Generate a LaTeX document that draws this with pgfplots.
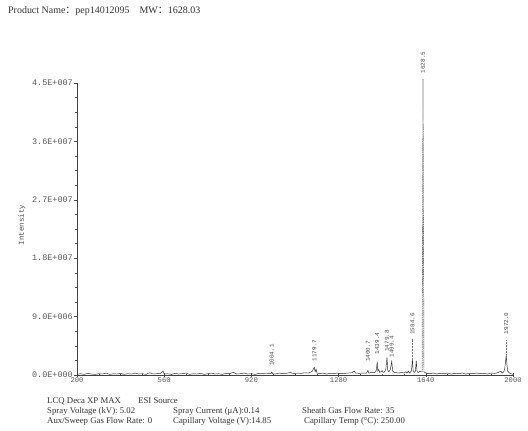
\documentclass[border=0pt]{standalone}
\usepackage{fontspec}
\setmainfont{Liberation Serif}
\newfontfamily\monofont{Liberation Mono}
\newfontfamily\cjk{Noto Sans CJK SC}
\usepackage{pgfplots}
\pgfplotsset{compat=1.18}
\begin{document}
\begin{tikzpicture}
\useasboundingbox (0,0) rectangle (528bp,431bp);
\begin{axis}[
  at={(77bp,56bp)}, anchor=south west,
  scale only axis, width=436bp, height=292bp,
  xmin=200, xmax=2000, ymin=0, ymax=45,
  axis x line=bottom, axis y line=left,
  axis line style={-, black!75, line width=0.6pt},
  clip=false,
  xtick={200,560,920,1280,1640,2000},
  xticklabels={200,560,920,1280,1640,2000},
  ytick={0,9,18,27,36,45},
  yticklabels={0.0E+000,9.0E+006,1.8E+007,2.7E+007,3.6E+007,4.5E+007},
  minor x tick num=3, minor y tick num=3,
  xtick align=center, ytick align=outside,
  major tick length=3bp, minor tick length=2bp,
  tick style={black!70, line width=0.5pt},
  xticklabel style={font=\monofont\fontsize{7.2}{7.2}\selectfont, text=black!65, inner sep=1pt},
  yticklabel style={font=\monofont\fontsize{8.5}{8.5}\selectfont, text=black!65, inner sep=1pt},
]
% spectrum (intensity in units of 1E+006)
\addplot[black!85, line width=0.45pt] coordinates {
(200,0.1) (215,0.2) (230,0.1) (245,0.25) (260,0.15) (275,0.1) (290,0.2) (305,0.15) (320,0.3) (335,0.1)
(350,0.2) (365,0.15) (380,0.25) (395,0.1) (410,0.2) (425,0.15) (440,0.3) (455,0.15) (470,0.2) (485,0.1)
(500,0.35) (515,0.15) (530,0.2) (545,0.25) (555,0.6) (560,0.15) (575,0.2) (590,0.1) (605,0.25) (620,0.15)
(635,0.2) (650,0.3) (665,0.1) (680,0.2) (695,0.15) (710,0.25) (725,0.1) (740,0.2) (755,0.3) (770,0.15)
(785,0.2) (800,0.1) (815,0.25) (830,0.2) (845,0.4) (860,0.15) (875,0.2) (890,0.3) (905,0.15) (920,0.2)
(935,0.1) (950,0.25) (965,0.2) (980,0.3) (995,0.2) (1001,0.2) (1004.1,0.45) (1008,0.2) (1020,0.15) (1035,0.3)
(1050,0.2) (1065,0.25) (1080,0.4) (1095,0.2) (1110,0.3) (1125,0.25) (1140,0.35) (1155,0.3) (1165,0.45) (1172,0.6)
(1176,0.9) (1179.7,1.2) (1183,0.5) (1187,0.9) (1191,0.3) (1200,0.2) (1215,0.3) (1230,0.15) (1245,0.25) (1260,0.2)
(1275,0.3) (1290,0.2) (1305,0.25) (1320,0.3) (1335,0.35) (1340,0.5) (1345,0.6) (1350,0.3) (1365,0.25) (1380,0.3)
(1395,0.3) (1400.7,0.7) (1405,0.3) (1415,0.4) (1425,0.35) (1433,0.5) (1436,0.8) (1439.4,2.05) (1442,0.6) (1446,0.9)
(1449,0.4) (1455,0.5) (1460,0.7) (1464,0.4) (1470,0.5) (1475,0.9) (1479.8,2.7) (1483,0.7) (1488,0.5) (1494,0.9)
(1499.4,2.1) (1503,0.6) (1510,0.4) (1520,0.35) (1530,0.3) (1540,0.4) (1550,0.3) (1558,0.5) (1562,0.3) (1568,0.6)
(1572,0.3) (1578,0.5) (1581,0.6) (1584.6,2.5) (1588,0.5) (1594,0.4) (1597,0.6) (1600.5,2.2) (1604,0.5) (1610,0.4)
(1616,0.6) (1620,0.5) (1625,0.5)
};
\addplot[black!85, line width=0.45pt] coordinates {
(1632,0.5) (1640,0.3) (1655,0.2) (1670,0.3) (1685,0.15) (1700,0.25) (1715,0.2) (1730,0.3) (1745,0.15) (1760,0.25)
(1775,0.2) (1790,0.3) (1805,0.15) (1820,0.25) (1835,0.2) (1850,0.3) (1865,0.2) (1880,0.25) (1895,0.15) (1910,0.3)
(1925,0.25) (1940,0.4) (1950,0.6) (1955,0.3) (1962,0.5) (1966,1.0) (1969,2.0) (1972,3.1) (1975,1.6) (1978,0.6)
(1985,0.3) (1992,0.2) (2000,0.1)
};
% base peak
\addplot[black!55, line width=0.7pt, dash pattern=on 1.2pt off 0.6pt] coordinates {
(1625,0.5) (1628.5,45.6) (1632,0.5)
};
% label leaders
\addplot[black!55, line width=0.35pt, dash pattern=on 1pt off 0.5pt] coordinates {(1584.6,2.5) (1584.6,5.6)};
\addplot[black!55, line width=0.35pt, dash pattern=on 1pt off 0.5pt] coordinates {(1972,3.1) (1972,5.4)};
% peak labels
\tikzset{pk/.style={rotate=90, anchor=west, inner sep=0.5pt, text=black!70, font=\monofont\fontsize{6}{6}\selectfont}}
\node[pk] at (axis cs:1628.5,46.4) {1628.5};
\node[pk] at (axis cs:1584.6,6.1) {1584.6};
\node[pk] at (axis cs:1972,6.2) {1972.0};
\node[pk] at (axis cs:1004.1,1.3) {1004.1};
\node[pk] at (axis cs:1179.7,2.0) {1179.7};
\node[pk] at (axis cs:1400.7,1.9) {1400.7};
\node[pk] at (axis cs:1439.4,3.1) {1439.4};
\node[pk] at (axis cs:1479.8,3.5) {1479.8};
\node[pk] at (axis cs:1499.4,2.6) {1499.4};
\end{axis}
\node[rotate=90, text=black!70, font=\monofont\fontsize{7.5}{7.5}\selectfont] at (22bp,206bp) {Intensity};
\node[anchor=base west, inner sep=0pt, text=black!80, font=\fontsize{10}{12}\selectfont] at (8bp,417bp) {Product Name{\cjk ：}pep14012095\quad MW{\cjk ：}1628.03};
\begin{scope}[every node/.style={anchor=base west, inner sep=0pt, text=black!80, font=\fontsize{8.8}{10}\selectfont}]
\node at (47bp,28bp) {LCQ Deca XP MAX};
\node at (138bp,28bp) {ESI Source};
\node at (47bp,18bp) {Spray Voltage (kV): 5.02};
\node at (173bp,18bp) {Spray Current (μA):0.14};
\node at (302bp,18bp) {Sheath Gas Flow Rate: 35};
\node at (47bp,8bp) {Aux/Sweep Gas Flow Rate: 0};
\node at (173bp,8bp) {Capillary Voltage (V):14.85};
\node at (304bp,8bp) {Capillary Temp (°C): 250.00};
\end{scope}
\end{tikzpicture}
\end{document}
